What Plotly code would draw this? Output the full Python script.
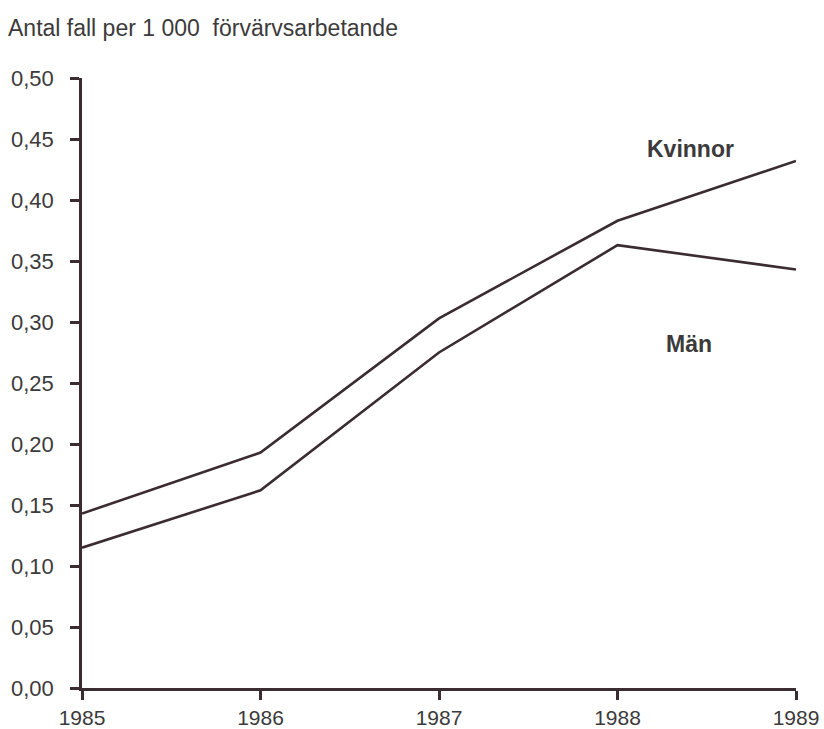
import plotly.graph_objects as go

years = [1985, 1986, 1987, 1988, 1989]
kvinnor = [0.143, 0.193, 0.303, 0.383, 0.432]
man = [0.115, 0.162, 0.275, 0.363, 0.343]
y_ticks = [0.0, 0.05, 0.10, 0.15, 0.20, 0.25, 0.30, 0.35, 0.40, 0.45, 0.50]

INK = '#3a2c30'
TEXT = '#3c3a3b'
FONT = 'Liberation Sans, Arial, sans-serif'

W, H = 824, 729

fig = go.Figure()

for name, vals in [('Kvinnor', kvinnor), ('Män', man)]:
    fig.add_trace(go.Scatter(
        x=years, y=vals, mode='lines', name=name,
        line=dict(color=INK, width=2.6),
        hovertemplate='%{x}: %{y:.3f}<extra>' + name + '</extra>'
    ))

# Series labels placed beside the lines
fig.add_annotation(x=1988.41, y=0.442, text='<b>Kvinnor</b>', showarrow=False,
                   font=dict(size=23, color=TEXT, family=FONT))
fig.add_annotation(x=1988.40, y=0.282, text='<b>Män</b>', showarrow=False,
                   font=dict(size=23, color=TEXT, family=FONT))

fig.update_layout(
    width=W, height=H,
    margin=dict(l=82, r=28, t=78, b=41),
    paper_bgcolor='white', plot_bgcolor='white',
    separators=', ',
    showlegend=False,
    font=dict(family=FONT, color=TEXT, size=21),
    title=dict(text='Antal fall per 1\u00a0000\u00a0 förvärvsarbetande',
               x=8 / W, xanchor='left', xref='container',
               y=1 - 28 / H, yanchor='middle', yref='container',
               font=dict(size=23, color=TEXT, family=FONT)),
)

fig.update_xaxes(
    range=[1985, 1989], tickvals=years, tickformat='d',
    showgrid=False, zeroline=False, automargin=False,
    showline=True, linecolor=INK, linewidth=2.5,
    ticks='outside', ticklen=9, tickwidth=2.5, tickcolor=INK,
    tickfont=dict(size=21, color=TEXT), ticklabelstandoff=0,
)
fig.update_yaxes(
    range=[0, 0.5], tickvals=y_ticks, tickformat='.2f',
    showgrid=False, zeroline=False, automargin=False,
    showline=True, linecolor=INK, linewidth=2.5,
    ticks='outside', ticklen=9, tickwidth=2.5, tickcolor=INK,
    tickfont=dict(size=22, color=TEXT), ticklabelstandoff=12,
)

# drop the browser's default body margin so the figure sits at the page corner
fig.write_html('out.html', config={'displayModeBar': False},
               post_script="document.body.style.margin='0';")
